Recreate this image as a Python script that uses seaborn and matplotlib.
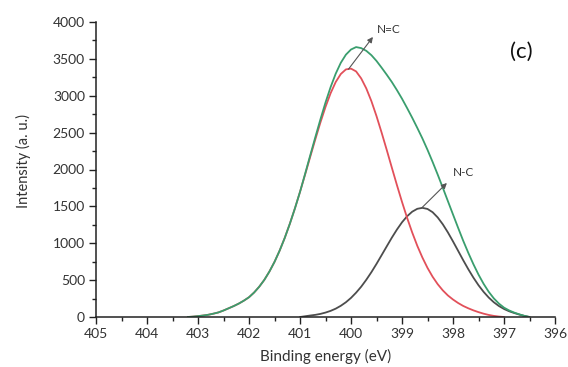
import matplotlib
matplotlib.use("Agg")
import matplotlib.pyplot as plt
import seaborn as sns
import pandas as pd
from matplotlib.ticker import MultipleLocator

# ---- data ----
red_energy = [403.2, 403.1, 403.0, 402.9, 402.8, 402.7, 402.6, 402.5, 402.4, 402.3,
              402.2, 402.1, 402.0, 401.9, 401.8, 401.7, 401.6, 401.5, 401.4, 401.3,
              401.2, 401.1, 401.0, 400.9, 400.8, 400.7, 400.6, 400.5, 400.4, 400.3,
              400.2, 400.1, 400.0, 399.9, 399.8, 399.7, 399.6, 399.5, 399.4, 399.3,
              399.2, 399.1, 399.0, 398.9, 398.8, 398.7, 398.6, 398.5, 398.4, 398.3,
              398.2, 398.1, 398.0, 397.9, 397.8, 397.7, 397.6, 397.5, 397.4, 397.3,
              397.2, 397.1, 397.0]
red_intensity = [0, 5, 12, 20, 30, 45, 62, 88, 118, 148,
                 182, 222, 268, 332, 410, 503, 616, 747, 899, 1071,
                 1263, 1472, 1696, 1931, 2171, 2408, 2637, 2848, 3034, 3186,
                 3295, 3357, 3368, 3330, 3235, 3099, 2927, 2724, 2501, 2267,
                 2027, 1790, 1561, 1345, 1146, 965, 806, 666, 546, 445,
                 361, 292, 237, 190, 150, 118, 90, 66, 45, 28,
                 15, 6, 0]

grey_energy = [401.0, 400.9, 400.8, 400.7, 400.6, 400.5, 400.4, 400.3, 400.2, 400.1,
               400.0, 399.9, 399.8, 399.7, 399.6, 399.5, 399.4, 399.3, 399.2, 399.1,
               399.0, 398.9, 398.8, 398.7, 398.6, 398.5, 398.4, 398.3, 398.2, 398.1,
               398.0, 397.9, 397.8, 397.7, 397.6, 397.5, 397.4, 397.3, 397.2, 397.1,
               397.0, 396.9, 396.8, 396.7, 396.6, 396.5]
grey_intensity = [0, 10, 20, 29, 42, 60, 83, 113, 152, 200,
                  259, 330, 411, 505, 608, 720, 838, 957, 1075, 1185,
                  1284, 1366, 1428, 1467, 1480, 1465, 1421, 1350, 1257, 1147,
                  1025, 898, 770, 648, 534, 431, 341, 264, 200, 149,
                  109, 78, 54, 33, 15, 0]

green_energy = [403.2, 403.1, 403.0, 402.9, 402.8, 402.7, 402.6, 402.5, 402.4, 402.3,
                402.2, 402.1, 402.0, 401.9, 401.8, 401.7, 401.6, 401.5, 401.4, 401.3,
                401.2, 401.1, 401.0, 400.9, 400.8, 400.7, 400.6, 400.5, 400.4, 400.3,
                400.2, 400.1, 400.0, 399.9, 399.8, 399.7, 399.6, 399.5, 399.4, 399.3,
                399.2, 399.1, 399.0, 398.9, 398.8, 398.7, 398.6, 398.5, 398.4, 398.3,
                398.2, 398.1, 398.0, 397.9, 397.8, 397.7, 397.6, 397.5, 397.4, 397.3,
                397.2, 397.1, 397.0, 396.9, 396.8, 396.7, 396.6, 396.5]
green_intensity = [0, 5, 12, 20, 30, 45, 62, 88, 118, 148,
                   182, 222, 268, 332, 410, 503, 616, 747, 899, 1071,
                   1263, 1472, 1696, 1941, 2191, 2437, 2679, 2908, 3117, 3299,
                   3447, 3557, 3627, 3660, 3646, 3609, 3550, 3472, 3381, 3286,
                   3187, 3077, 2960, 2833, 2702, 2564, 2421, 2267, 2103, 1931,
                   1753, 1571, 1390, 1210, 1034, 870, 716, 575, 450, 342,
                   253, 182, 127, 89, 60, 36, 15, 0]

x_ticks = [405, 404, 403, 402, 401, 400, 399, 398, 397, 396]
y_ticks = [0, 500, 1000, 1500, 2000, 2500, 3000, 3500, 4000]

# annotations
labels = ["N=C", "N-C"]
arrow_from = [(400.05, 3360), (398.62, 1475)]
arrow_to = [(399.57, 3797), (398.12, 1817)]
label_pos = [(399.49, 3905), (398.0, 1953)]

# ---- build table ----
df = pd.concat([
    pd.DataFrame({"E": grey_energy, "I": grey_intensity, "comp": "grey"}),
    pd.DataFrame({"E": red_energy, "I": red_intensity, "comp": "red"}),
    pd.DataFrame({"E": green_energy, "I": green_intensity, "comp": "green"}),
])

sns.set_style("ticks")
plt.rcParams["font.family"] = ["Lato", "DejaVu Sans"]

fig = plt.figure(figsize=(5.68, 3.67), dpi=100)
ax = fig.add_axes([96 / 568, 1 - 317 / 367, (555 - 96) / 568, (317 - 22) / 367])

palette = {"red": "#e2505a", "grey": "#4d4d4d", "green": "#3a9e6e"}
sns.lineplot(data=df, x="E", y="I", hue="comp", palette=palette, estimator=None,
             sort=False, linewidth=1.3, legend=False, ax=ax,
             hue_order=["grey", "red", "green"])

ax.set_xlim(405, 396)
ax.set_ylim(0, 4000)
ax.set_xticks(x_ticks)
ax.set_xticklabels([str(t) for t in x_ticks])
ax.set_yticks(y_ticks)
ax.set_yticklabels([str(t) for t in y_ticks])
ax.xaxis.set_minor_locator(MultipleLocator(0.5))
ax.yaxis.set_minor_locator(MultipleLocator(250))
ax.tick_params(axis="both", which="major", direction="out", length=5, width=1,
               labelsize=10, labelcolor="#333333", color="#222222", pad=3)
ax.tick_params(axis="both", which="minor", direction="out", length=3, width=1,
               color="#222222")
for s in ["top", "right"]:
    ax.spines[s].set_visible(False)
for s in ["left", "bottom"]:
    ax.spines[s].set_color("#222222")
    ax.spines[s].set_linewidth(1.1)

ax.set_xlabel("Binding energy (eV)", fontsize=11, color="#333333")
ax.set_ylabel("Intensity (a. u.)", fontsize=10.5, color="#333333")
ax.xaxis.set_label_coords(0.5, -0.108)
ax.yaxis.set_label_coords(-0.141, 0.53)

for lab, a0, a1, tp in zip(labels, arrow_from, arrow_to, label_pos):
    ax.annotate("", xy=a1, xytext=a0,
                arrowprops=dict(arrowstyle="-|>", color="#555555", lw=0.8,
                                mutation_scale=8, shrinkA=0, shrinkB=0))
    ax.text(tp[0], tp[1], lab, fontsize=8.5, color="#333333", ha="left", va="center")

ax.text(0.926, 0.898, "(c)", transform=ax.transAxes, fontsize=16, color="#111111",
        ha="center", va="center")

fig.savefig("out.png", dpi=100)
